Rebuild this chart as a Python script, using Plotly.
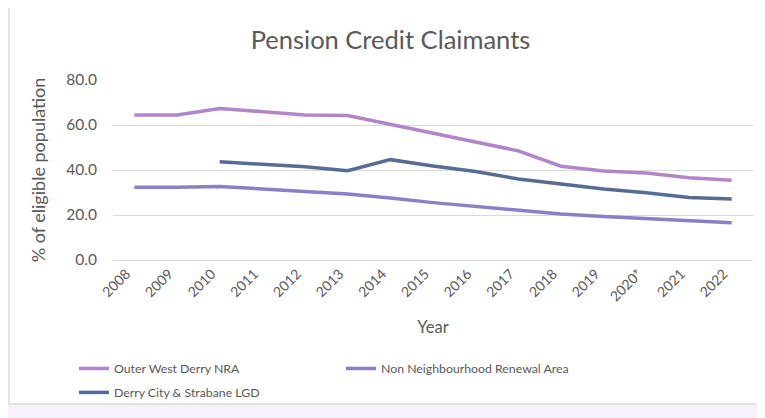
import plotly.graph_objects as go

# Dados
anos = ["2008", "2009", "2010", "2011", "2012", "2013", "2014", "2015",
        "2016", "2017", "2018", "2019", "2020*", "2021", "2022"]
outer_west = [64.4, 64.4, 67.3, 66.0, 64.5, 64.2, 60.3, 56.4, 52.7, 48.5,
              41.7, 39.6, 38.7, 36.6, 35.5]
non_nra = [32.3, 32.3, 32.7, 31.7, 30.5, 29.3, 27.6, 25.5, 23.7, 22.2,
           20.4, 19.3, 18.4, 17.3, 16.6]
derry_city = [None, None, 43.7, 42.7, 41.4, 39.7, 44.6, 41.8, 39.3, 36.0,
              33.8, 31.6, 29.9, 27.8, 27.1]

COR_OUTER = "#B086C8"
COR_NON = "#8A80C8"
COR_DERRY = "#566C93"
COR_TEXTO = "#595959"
FONTE = "Lato, Open Sans, sans-serif"

fig = go.Figure()
# a terceira série vai para uma segunda legenda (segunda linha)
for nome, valores, cor, leg in [
    ("Outer West Derry NRA", outer_west, COR_OUTER, "legend"),
    ("Non Neighbourhood Renewal Area", non_nra, COR_NON, "legend"),
    ("Derry City & Strabane LGD", derry_city, COR_DERRY, "legend2"),
]:
    fig.add_trace(go.Scatter(
        x=anos, y=valores, name=nome, mode="lines",
        line=dict(color=cor, width=3.5),
        connectgaps=False, legend=leg,
    ))

# Moldura do gráfico e faixa lilás no rodapé
fig.add_shape(type="rect", xref="paper", yref="paper",
              x0=-0.1625, x1=1.05, y0=-0.80, y1=1.417,
              line=dict(color="#D9D9D9", width=1.5), fillcolor="rgba(0,0,0,0)",
              layer="below")
fig.add_shape(type="rect", xref="paper", yref="paper",
              x0=-0.17, x1=1.05, y0=-0.88, y1=-0.805,
              line=dict(width=0), fillcolor="#F6F1FB", layer="below")

_LEGENDA = dict(
    orientation="h", x=-0.061, xanchor="left", yanchor="top",
    entrywidth=222, entrywidthmode="pixels", itemwidth=30,
    font=dict(size=12.3, color=COR_TEXTO), traceorder="normal",
    bgcolor="rgba(0,0,0,0)",
)

# a página tem 8px de margem no body, por isso tudo desloca 8px
fig.update_layout(
    width=765, height=418,
    font=dict(family=FONTE, size=13, color=COR_TEXTO),
    paper_bgcolor="white",
    plot_bgcolor="white",
    margin=dict(l=105, r=20, t=72, b=166, autoexpand=False),
    title=dict(text="Pension Credit Claimants", x=0.5, xanchor="center",
               y=0.923, yanchor="middle", xref="container",
               font=dict(size=25.5, color=COR_TEXTO)),
    xaxis=dict(
        type="category", range=[-0.5, 14.5], tickangle=-45,
        showgrid=False, showline=False, ticks="", automargin=False,
        ticklabelstandoff=2, ticklabelshift=-8,
        tickfont=dict(size=14, color=COR_TEXTO),
        title=dict(text="Year", font=dict(size=16.5, color=COR_TEXTO), standoff=18),
    ),
    yaxis=dict(
        range=[0, 80], dtick=20, tickformat=".1f", automargin=False,
        showgrid=True, gridcolor="#D9D9D9", gridwidth=1.3,
        zeroline=True, zerolinecolor="#D9D9D9", zerolinewidth=1.3,
        ticks="", ticklabelstandoff=15,
        tickfont=dict(size=15.5, color=COR_TEXTO),
        title=dict(text="% of eligible population", font=dict(size=18, color=COR_TEXTO),
                   standoff=16),
    ),
    legend=dict(**_LEGENDA, y=-0.522),
    legend2=dict(**_LEGENDA, y=-0.655),
    showlegend=True,
)

fig.write_html("out.html")
